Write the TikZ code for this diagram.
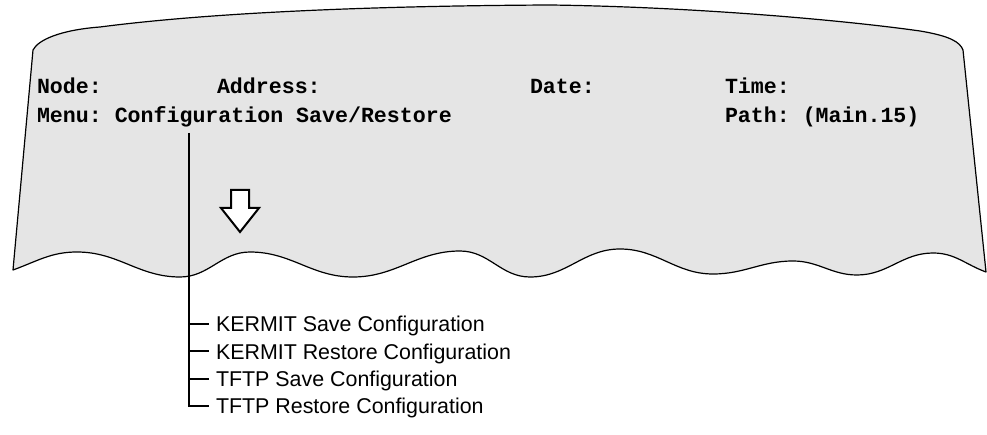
\documentclass[tikz,border=0pt]{standalone}
\usepackage{fontspec}
\newfontfamily\screenfont{Liberation Mono}
\newfontfamily\labelfont{Liberation Sans}
\usetikzlibrary{positioning}
\frenchspacing

\begin{document}
\begin{tikzpicture}[x=1pt, y=-1pt, node distance=12.1pt,
      every node/.append style={inner sep=0pt, outer sep=0pt},
      screen/.style={fill=black!10, draw=black, line width=1.2pt, line join=round},
      field/.style={anchor=base west, font=\screenfont\bfseries\fontsize{21.6}{24}\selectfont},
      item/.style={anchor=west, text height=15.3pt, text depth=0pt,
                   font=\labelfont\fontsize{21.4}{24}\selectfont}]
    \tikzstyle{tick} = [line width=1.9pt, shorten >=7pt]
    \tikzstyle{hint} = [line width=2pt, fill=white, line join=miter]
    \useasboundingbox (0,0) rectangle (987,435);
    \draw [screen] (13,270) -- (33,50)
      .. controls (38,40) and (60,30) .. (100,27)
      .. controls (200,14) and (350,6) .. (550,5)
      .. controls (700,7) and (850,21) .. (920,31)
      .. controls (950,36) and (960,42) .. (963,50)
      -- (986,272)
      to[out=160,in=0] (933,253) to[out=180,in=0] (857,275)
      to[out=180,in=0] (793,261) to[out=180,in=0] (713,274)
      to[out=180,in=0] (620,249) to[out=180,in=0] (530,277)
      to[out=180,in=0] (460,251) to[out=180,in=0] (353,277)
      to[out=180,in=0] (250,252) to[out=180,in=0] (180,277)
      to[out=180,in=0] (77,252) to[out=180,in=20] (13,270) -- cycle;
    \draw [hint] (231,190) -- (249,190) -- (249,208) -- (259,208) -- (240,232)
      -- (221,208) -- (231,208) -- cycle;
    \node [field] (nodefield) at (37,93.3) {Node:};
    \node [field] (addressfield) at (217,93.3) {Address:};
    \node [field] (datefield) at (530,93.3) {Date:};
    \node [field] (timefield) at (725,93.3) {Time:};
    \node [field] (menu) at (37,122.3) {Menu: Configuration Save/Restore};
    \node [field] (path) at (725,122.3) {Path: (Main.15)};
    \coordinate (trunk) at (189,133);
    \node [item] (kermitsave) at (216,324) {KERMIT Save Configuration};
    \node [item, below=of kermitsave.south west, anchor=north west] (kermitrestore) {KERMIT Restore Configuration};
    \node [item, below=of kermitrestore.south west, anchor=north west] (tftpsave) {TFTP Save Configuration};
    \node [item, below=of tftpsave.south west, anchor=north west] (tftprestore) {TFTP Restore Configuration};
    \draw [tick] (trunk |- kermitsave.west) -- (kermitsave.west);
    \draw [tick] (trunk |- kermitrestore.west) -- (kermitrestore.west);
    \draw [tick] (trunk |- tftpsave.west) -- (tftpsave.west);
    \draw [tick] (trunk) |- (tftprestore.west);
  \end{tikzpicture}
\end{document}
